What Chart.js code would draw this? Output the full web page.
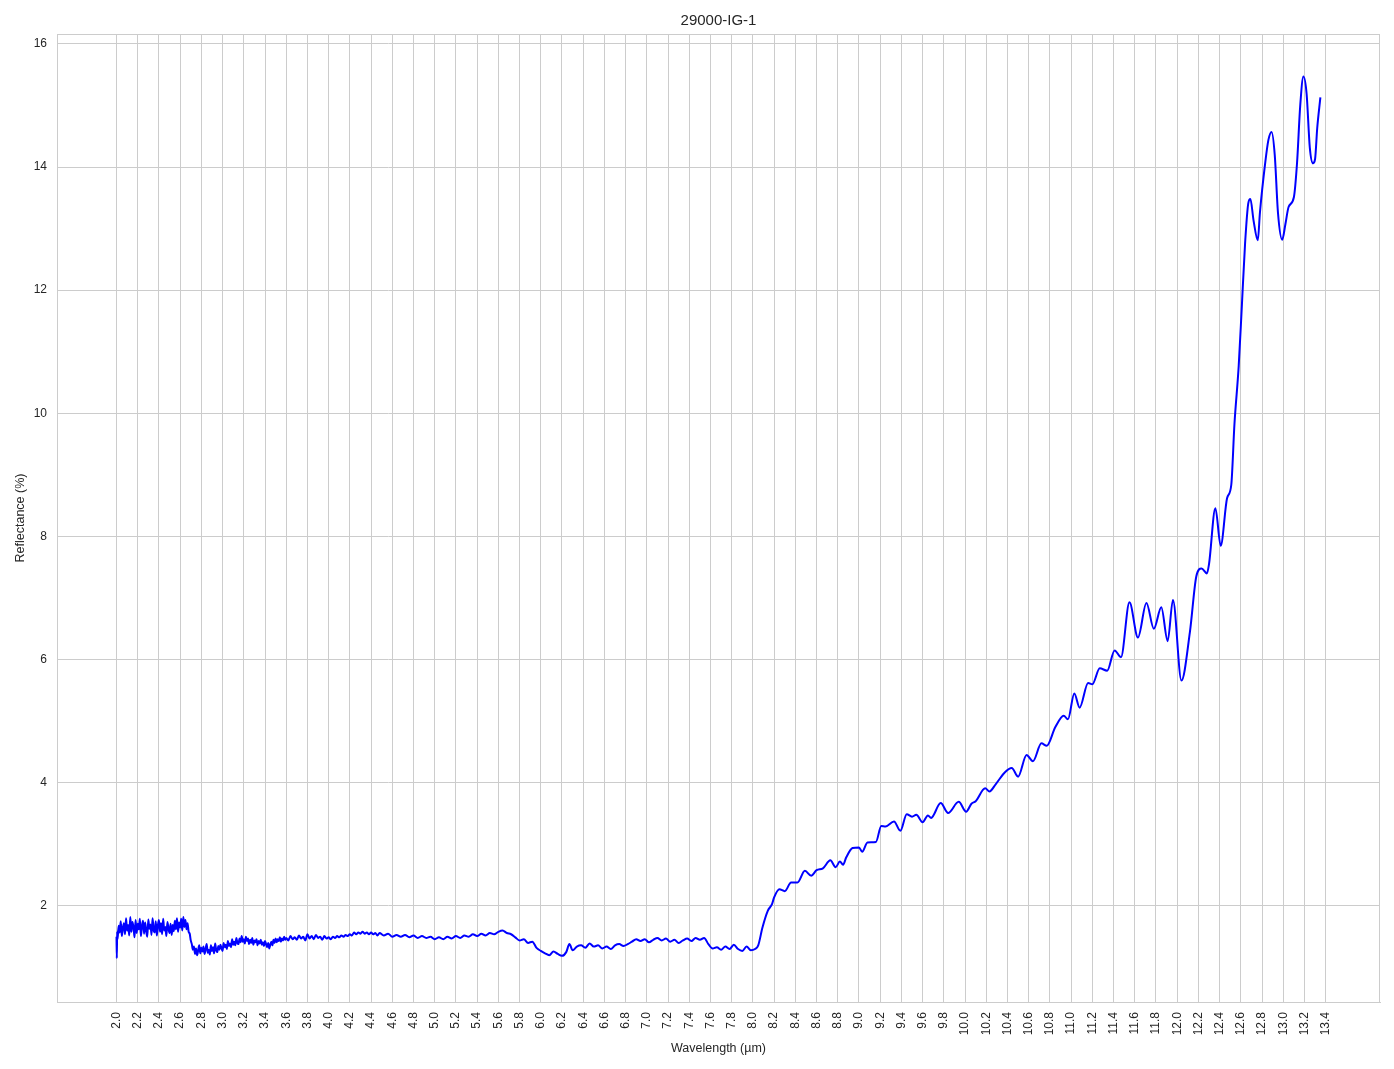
<!DOCTYPE html>
<html>
<head>
<meta charset="utf-8">
<title>29000-IG-1</title>
<script src="https://cdn.jsdelivr.net/npm/chart.js@4.4.1/dist/chart.umd.min.js"></script>
<style>
  html, body { margin: 0; padding: 0; background: #fff; }
  #wrap { width: 1394px; height: 1069px; position: relative; }
</style>
</head>
<body>
<div id="wrap"><canvas id="chart"></canvas></div>
<script>
// spectrum, [wavelength µm, reflectance %]
// noisy start of the scan
const specShort = [
  [2.000,1.50],[2.003,1.15],[2.006,1.58],[2.01,1.46],[2.02,1.68],[2.03,1.57],[2.04,1.75],[2.05,1.51],
  [2.06,1.64],[2.07,1.72],[2.08,1.54],[2.09,1.80],[2.10,1.60],[2.11,1.69],[2.12,1.52],[2.13,1.82],
  [2.14,1.58],[2.15,1.74],[2.16,1.66],[2.17,1.49],[2.18,1.77],[2.19,1.56],[2.20,1.71],[2.21,1.62],
  [2.22,1.79],[2.23,1.51],[2.24,1.67],[2.25,1.76],[2.26,1.55],[2.27,1.73],[2.28,1.59],[2.29,1.50],
  [2.30,1.78],[2.31,1.63],[2.32,1.70],[2.33,1.53],[2.34,1.80],[2.35,1.61],[2.36,1.57],[2.37,1.75],
  [2.38,1.52],[2.39,1.68],[2.40,1.77],[2.41,1.58],[2.42,1.72],[2.43,1.54],[2.44,1.79],[2.45,1.60],
  [2.46,1.66],[2.47,1.51],[2.48,1.74],[2.49,1.63],[2.50,1.56],[2.51,1.71],[2.52,1.53],[2.53,1.69],
  [2.54,1.59],[2.55,1.76],[2.56,1.62],[2.57,1.80],[2.58,1.58],[2.59,1.73],[2.60,1.65],[2.61,1.79],
  [2.62,1.60],[2.63,1.82],[2.64,1.66],[2.65,1.77],[2.66,1.62],[2.67,1.72],[2.68,1.58],[2.69,1.55],
  [2.70,1.44],[2.71,1.38],[2.72,1.29],[2.73,1.34],[2.74,1.22],[2.75,1.31],[2.76,1.20],[2.77,1.28],
  [2.78,1.36],[2.79,1.23],[2.80,1.32],[2.81,1.26],[2.82,1.34],[2.83,1.22],[2.84,1.30],[2.85,1.38],
  [2.86,1.24],[2.87,1.29],[2.88,1.21],[2.89,1.36],[2.90,1.27],[2.91,1.33],[2.92,1.23],[2.93,1.39],
  [2.94,1.28],[2.95,1.25],[2.96,1.35],[2.97,1.29],[2.98,1.37],[2.99,1.31],[3.00,1.27],[3.01,1.40],
  [3.02,1.33],[3.03,1.37],[3.04,1.30],[3.05,1.43],[3.06,1.35],[3.07,1.39],[3.08,1.33],[3.09,1.46],
  [3.10,1.37],[3.11,1.42],[3.12,1.36],[3.13,1.48],[3.14,1.40],[3.15,1.38],[3.16,1.47],[3.17,1.41],
  [3.18,1.51],[3.19,1.42],[3.20,1.46],[3.21,1.39],[3.22,1.50],[3.23,1.43],[3.24,1.47],[3.25,1.38],
  [3.26,1.45],[3.27,1.40],[3.28,1.48],[3.29,1.37],[3.30,1.44],[3.31,1.41],[3.32,1.46],[3.33,1.36],
  [3.34,1.43],[3.35,1.39],[3.36,1.45],[3.37,1.37],[3.38,1.41],[3.39,1.35],[3.40,1.43],[3.41,1.38],
  [3.42,1.33],[3.43,1.40],[3.44,1.31],[3.45,1.37],[3.46,1.42],[3.47,1.36],[3.48,1.45],[3.49,1.40],
  [3.50,1.47],[3.51,1.41],[3.52,1.46],[3.53,1.43],[3.54,1.49],[3.55,1.42],[3.56,1.47],[3.57,1.44],
  [3.58,1.50],[3.59,1.45],[3.60,1.48],[3.62,1.44],[3.64,1.51],[3.66,1.46],[3.68,1.49],[3.70,1.45],
  [3.72,1.52],[3.74,1.47],[3.76,1.50],[3.78,1.44],[3.80,1.54],[3.82,1.47],[3.84,1.51],[3.86,1.46],
  [3.88,1.53],[3.90,1.48],[3.92,1.50],[3.94,1.45],[3.96,1.51],[3.98,1.47],[4.00,1.49]
];

// flat, slightly noisy plateau
const specMid = [
  [4.02,1.46],[4.04,1.50],[4.06,1.48],[4.08,1.51],[4.10,1.49],[4.12,1.52],[4.14,1.50],[4.16,1.53],
  [4.18,1.51],[4.20,1.54],[4.22,1.52],[4.24,1.57],[4.26,1.54],[4.28,1.57],[4.30,1.55],[4.32,1.58],
  [4.34,1.55],[4.36,1.57],[4.38,1.54],[4.40,1.57],[4.42,1.54],[4.44,1.56],[4.46,1.52],[4.48,1.56],
  [4.52,1.52],[4.56,1.55],[4.60,1.50],[4.64,1.53],[4.68,1.50],[4.72,1.53],[4.76,1.49],[4.80,1.52],
  [4.84,1.48],[4.88,1.51],[4.92,1.48],[4.96,1.50],[5.00,1.46],[5.04,1.49],[5.08,1.46],[5.12,1.50],
  [5.16,1.47],[5.20,1.51],[5.24,1.48],[5.28,1.52],[5.32,1.50],[5.36,1.54],[5.40,1.51],[5.44,1.55],
  [5.48,1.52],[5.52,1.56],[5.56,1.54],[5.60,1.58],[5.64,1.60],[5.68,1.56],[5.72,1.54],[5.76,1.49],
  [5.80,1.44],[5.84,1.46],[5.88,1.40],[5.92,1.42],[5.96,1.32],[6.00,1.27],[6.04,1.23],[6.08,1.20],
  [6.12,1.26],[6.16,1.22],[6.20,1.19],[6.24,1.25],[6.27,1.38],[6.30,1.28],[6.34,1.34],[6.38,1.36],
  [6.42,1.32],[6.46,1.39],[6.50,1.34],[6.54,1.36],[6.58,1.31],[6.62,1.34],[6.66,1.30],[6.70,1.36],
  [6.74,1.38],[6.78,1.35],[6.82,1.38],[6.86,1.42],[6.90,1.46],[6.94,1.43],[6.98,1.46],[7.02,1.41],
  [7.06,1.45],[7.10,1.48],[7.14,1.44],[7.18,1.47],[7.22,1.42],[7.26,1.45],[7.30,1.40],[7.34,1.44],
  [7.38,1.47],[7.42,1.43],[7.46,1.48],[7.50,1.45],[7.54,1.48],[7.58,1.38],[7.62,1.31],[7.66,1.33],
  [7.70,1.29],[7.74,1.34],[7.78,1.30],[7.82,1.37],[7.86,1.30],[7.90,1.27],[7.94,1.34],[7.98,1.28],
  [8.02,1.30],[8.05,1.36]
];

// smooth rise with fringes
const specLong = [
  [8.09,1.65],[8.14,1.92],[8.18,2.03],[8.20,2.14],[8.25,2.27],[8.30,2.24],[8.36,2.38],[8.42,2.38],
  [8.49,2.57],[8.55,2.49],[8.60,2.58],[8.66,2.61],[8.73,2.74],[8.78,2.63],[8.82,2.72],[8.85,2.67],
  [8.88,2.79],[8.94,2.94],[9.00,2.95],[9.03,2.88],[9.08,3.03],[9.16,3.04],[9.21,3.30],[9.25,3.29],
  [9.33,3.37],[9.39,3.22],[9.45,3.49],[9.50,3.45],[9.54,3.48],[9.60,3.36],[9.65,3.47],[9.68,3.43],
  [9.77,3.67],[9.84,3.51],[9.94,3.69],[10.01,3.53],[10.06,3.66],[10.10,3.70],[10.19,3.91],[10.23,3.86],
  [10.29,3.98],[10.37,4.16],[10.44,4.24],[10.50,4.10],[10.58,4.45],[10.64,4.35],[10.72,4.64],[10.77,4.60],
  [10.85,4.90],[10.93,5.09],[10.97,5.03],[11.03,5.45],[11.08,5.22],[11.16,5.62],[11.20,5.60],[11.27,5.86],
  [11.34,5.82],[11.41,6.15],[11.47,6.04],[11.55,6.93],[11.63,6.36],[11.71,6.92],[11.78,6.50],[11.85,6.85],
  [11.91,6.30],[11.96,6.97],[12.04,5.66],[12.12,6.45],[12.18,7.35],[12.23,7.48],[12.28,7.40],[12.30,7.55],
  [12.36,8.46],[12.41,7.85],[12.47,8.62],[12.51,8.84],[12.54,9.83],[12.58,10.77],[12.61,11.76],[12.64,12.76],
  [12.67,13.41],[12.69,13.48],[12.72,13.13],[12.76,12.81],[12.78,13.26],[12.83,14.07],[12.86,14.44],[12.89,14.57],
  [12.92,14.19],[12.95,13.26],[12.99,12.82],[13.02,13.07],[13.05,13.35],[13.10,13.51],[13.13,14.07],[13.16,15.00],
  [13.19,15.47],[13.22,15.19],[13.25,14.32],[13.28,14.06],[13.30,14.13],[13.32,14.63],[13.35,15.13]
];

const xTicks = [2.0,2.2,2.4,2.6,2.8,3.0,3.2,3.4,3.6,3.8,4.0,4.2,4.4,4.6,4.8,5.0,5.2,5.4,5.6,5.8,
  6.0,6.2,6.4,6.6,6.8,7.0,7.2,7.4,7.6,7.8,8.0,8.2,8.4,8.6,8.8,9.0,9.2,9.4,9.6,9.8,
  10.0,10.2,10.4,10.6,10.8,11.0,11.2,11.4,11.6,11.8,12.0,12.2,12.4,12.6,12.8,13.0,13.2,13.4];
const yTicks = [2, 4, 6, 8, 10, 12, 14, 16];

const X_RANGE = [1.439, 13.912];
const Y_RANGE = [0.44, 16.16];

const GRID = '#cccccc';
const TEXT = '#262626';
const FONT = "'Liberation Sans', Arial, sans-serif";

const points = [...specShort, ...specMid, ...specLong].map(([x, y]) => ({ x, y }));

// matplotlib-style box around the axes
const frame = {
  id: 'frame',
  afterDatasetsDraw(chart) {
    const { ctx, chartArea: a } = chart;
    ctx.save();
    ctx.strokeStyle = GRID;
    ctx.lineWidth = 1;
    ctx.strokeRect(Math.round(a.left) + 0.5, Math.round(a.top) + 0.5,
      Math.round(a.right - a.left) - 1, Math.round(a.bottom - a.top));
    ctx.restore();
  }
};

new Chart(document.getElementById('chart'), {
  type: 'line',
  data: {
    datasets: [{
      data: points,
      borderColor: '#0000ff',
      borderWidth: 2,
      pointRadius: 0,
      cubicInterpolationMode: 'monotone',
      fill: false
    }]
  },
  plugins: [frame],
  options: {
    responsive: true,
    maintainAspectRatio: false,
    animation: false,
    layout: { padding: { right: 14 } },
    plugins: {
      legend: { display: false },
      tooltip: { enabled: false },
      title: {
        display: true,
        text: '29000-IG-1',
        fullSize: false,
        color: TEXT,
        font: { family: FONT, size: 15, weight: 'normal' },
        padding: { top: 12, bottom: 4 }
      }
    },
    scales: {
      x: {
        type: 'linear',
        min: X_RANGE[0],
        max: X_RANGE[1],
        afterBuildTicks: (axis) => { axis.ticks = xTicks.map(v => ({ value: v })); },
        afterFit: (axis) => { axis.height = 67; },
        ticks: {
          autoSkip: false,
          minRotation: 90,
          maxRotation: 90,
          padding: 10,
          color: TEXT,
          font: { family: FONT, size: 12 },
          callback: (v) => Number(v).toFixed(1)
        },
        grid: { color: GRID, lineWidth: 1, drawTicks: false },
        border: { display: true, color: GRID },
        title: {
          display: true,
          text: 'Wavelength (µm)',
          color: TEXT,
          font: { family: FONT, size: 12.5 },
          padding: { top: 0, bottom: 13 }
        }
      },
      y: {
        type: 'linear',
        min: Y_RANGE[0],
        max: Y_RANGE[1],
        afterBuildTicks: (axis) => { axis.ticks = yTicks.map(v => ({ value: v })); },
        afterFit: (axis) => { axis.width = 57; },
        ticks: {
          padding: 10,
          color: TEXT,
          font: { family: FONT, size: 12 },
          callback: (v) => String(v)
        },
        grid: { color: GRID, lineWidth: 1, drawTicks: false },
        border: { display: true, color: GRID },
        title: {
          display: true,
          text: 'Reflectance (%)',
          color: TEXT,
          font: { family: FONT, size: 12.5 },
          padding: { top: 13, bottom: 0 }
        }
      }
    }
  }
});
</script>
</body>
</html>
